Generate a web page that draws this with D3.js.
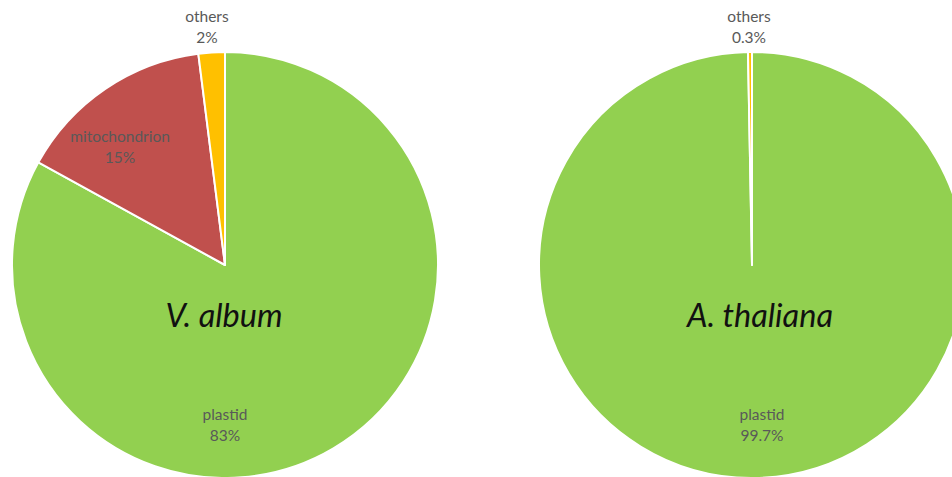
<!DOCTYPE html>
<html>
<head>
<meta charset="utf-8">
<script src="https://cdn.jsdelivr.net/npm/d3@7/dist/d3.min.js"></script>
<style>
  html, body { margin: 0; padding: 0; background: #fff; }
  svg { display: block; }
</style>
</head>
<body>
<svg id="chart" width="952" height="477"></svg>
<script>
// Organelle origin of transcripts per species
const categories = ["plastid", "mitochondrion", "others"];
const species = ["V. album", "A. thaliana"];
const valuesVAlbum = [83, 15, 2];
const valuesAThaliana = [99.7, 0, 0.3];
const percentLabelsVAlbum = ["83%", "15%", "2%"];
const percentLabelsAThaliana = ["99.7%", "", "0.3%"];
const colors = ["#92D050", "#C0504D", "#FFC000"];

const svg = d3.select("#chart");
const radius = 213;
const centers = [{ x: 225, y: 265 }, { x: 752, y: 265 }];

const color = d3.scaleOrdinal().domain(categories).range(colors);
const pie = d3.pie().sort(null).value(d => d.value);
const arc = d3.arc().innerRadius(0).outerRadius(radius);
const font = "Lato, 'Open Sans', sans-serif";

const datasets = [
  { name: species[0], values: valuesVAlbum, labels: percentLabelsVAlbum },
  { name: species[1], values: valuesAThaliana, labels: percentLabelsAThaliana }
];

datasets.forEach((ds, i) => {
  const c = centers[i];
  const rows = categories.map((cat, k) => ({ cat, value: ds.values[k], label: ds.labels[k] }));
  const arcs = pie(rows);
  const g = svg.append("g").attr("transform", `translate(${c.x},${c.y})`);

  g.selectAll("path.slice")
    .data(arcs.filter(a => a.data.value > 0))
    .join("path")
    .attr("class", "slice")
    .attr("d", arc)
    .attr("fill", d => color(d.data.cat))
    .attr("stroke", "#fff")
    .attr("stroke-width", 2)
    .attr("stroke-linejoin", "round");

  // data labels: plastid below centre, mitochondrion near its centroid, others above the pie
  arcs.filter(a => a.data.value > 0).forEach(a => {
    let x, y1;
    if (a.data.cat === "plastid") {
      x = i === 0 ? 0 : 10;
      y1 = 155;
    } else if (a.data.cat === "mitochondrion") {
      const lab = d3.arc().innerRadius(radius * 0.75).outerRadius(radius * 0.75);
      const p = lab.centroid(Object.assign({}, a, { startAngle: a.startAngle - 0.12, endAngle: a.endAngle - 0.12 }));
      x = p[0];
      y1 = p[1] - 3;
    } else {
      x = i === 0 ? -18 : -3;
      y1 = -243;
    }
    const t = g.append("text")
      .attr("text-anchor", "middle")
      .attr("font-family", font)
      .attr("font-size", 15.5)
      .attr("fill", "#595959");
    t.append("tspan").attr("x", x).attr("y", y1).text(a.data.cat);
    t.append("tspan").attr("x", x).attr("y", y1 + 21).text(a.data.label);
  });

  g.append("text")
    .attr("x", i === 0 ? -1 : 8)
    .attr("y", 62)
    .attr("text-anchor", "middle")
    .attr("font-family", font)
    .attr("font-style", "italic")
    .attr("font-size", 32.5)
    .attr("fill", "#111")
    .text(ds.name);
});
</script>
</body>
</html>
